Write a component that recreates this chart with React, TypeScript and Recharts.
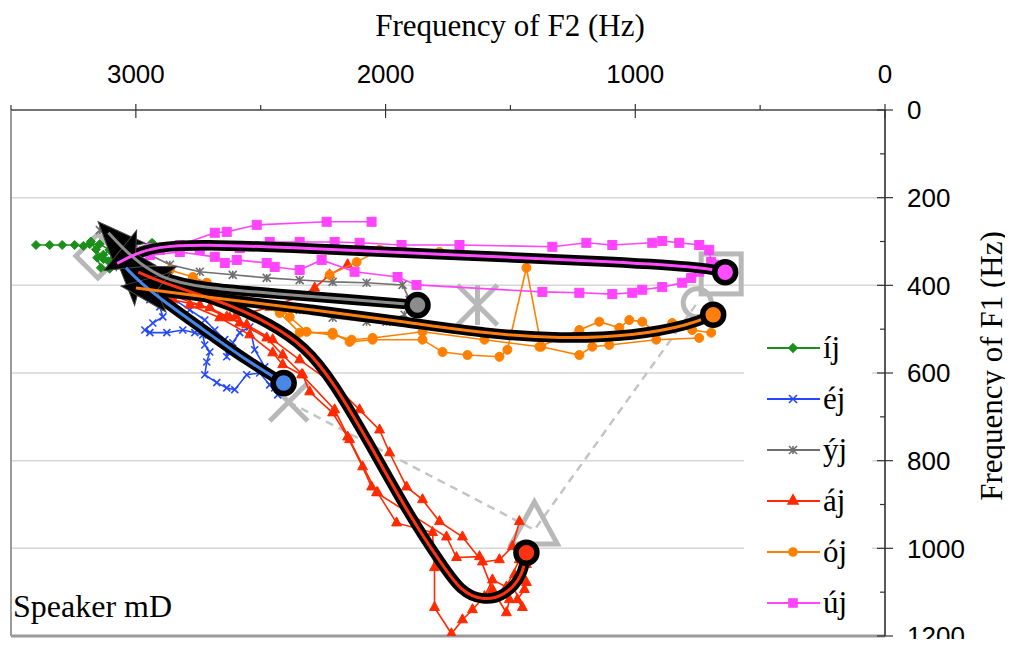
import React from "react";
import { ScatterChart, Scatter, XAxis, YAxis, CartesianGrid, ReferenceLine } from "recharts";

// All points are [F2, F1] in Hz

// íj
const iTracks = [
  [[3400, 308], [3345, 308], [3295, 308], [3245, 308], [3210, 310], [3185, 306], [3145, 306], [3105, 319]],
  [[3105, 319], [3130, 330], [3155, 337], [3140, 360], [3105, 362], [3050, 360], [3080, 338], [3025, 322], [2935, 303]],
  [[3180, 300], [3160, 318], [3130, 340], [3110, 345], [3090, 325], [3060, 315]],
];

// éj
const eTracks = [
  [[2432, 650], [2464, 627], [2504, 600], [2556, 604], [2604, 638], [2636, 634], [2676, 622], [2724, 604], [2716, 575],
   [2704, 552], [2724, 536], [2732, 513], [2764, 508], [2812, 502], [2876, 508], [2944, 508], [2964, 502], [2932, 486],
   [2892, 472], [2904, 449], [2944, 433], [2984, 410], [3024, 376]],
  [[2444, 634], [2484, 586], [2524, 547], [2544, 495], [2584, 508], [2612, 531], [2636, 563], [2644, 524], [2684, 502],
   [2724, 479], [2784, 456], [2844, 433], [2904, 410], [2944, 388], [3004, 365]],
];

// ýj
const yTracks = [
  [[1904, 433], [1932, 399], [2076, 394], [2212, 392], [2344, 388], [2476, 383], [2612, 376], [2744, 369], [2864, 353],
   [2984, 319], [3064, 292], [3144, 274]],
  [[1924, 467], [1996, 483], [2076, 483], [2212, 474], [2344, 456], [2476, 445], [2612, 429], [2744, 410], [2884, 394],
   [2944, 376]],
];

// áj
const aTracks = [
  [[1464, 1026], [1516, 1088], [1572, 1072], [1604, 1110], [1652, 1140], [1692, 1163], [1736, 1195], [1804, 1135],
   [1804, 1044], [1812, 964], [1956, 942], [2032, 873], [2056, 860], [2092, 814], [2152, 746], [2212, 691], [2304, 643],
   [2332, 604], [2412, 559], [2476, 520], [2584, 486], [2636, 472], [2744, 445], [2864, 422]],
  [[1464, 939], [1492, 996], [1544, 1026], [1612, 1031], [1692, 974], [1784, 939], [1852, 889], [1916, 860], [1984, 782],
   [2024, 730], [2104, 684], [2204, 627], [2344, 570], [2452, 524], [2556, 490], [2624, 474], [2704, 451], [2852, 433]],
  [[1484, 1060], [1504, 1117], [1516, 1147], [1572, 1094], [1624, 1019], [1716, 1021], [1756, 974], [2036, 873],
   [2144, 752], [2204, 684], [2336, 604], [2412, 581], [2452, 554], [2544, 513], [2664, 474], [2784, 445]],
  [[2152, 353], [2224, 376], [2284, 406], [2344, 426], [2464, 450], [2600, 470]],
  [[1436, 1037], [1456, 1060], [1444, 1094], [1472, 1117], [1452, 1135], [1492, 1083], [1436, 1078]],
];

// ój
const oTracks = [
  [[696, 508], [772, 502], [852, 486], [916, 508], [972, 483], [1024, 479], [1064, 497], [1144, 483], [1224, 502],
   [1384, 540], [1604, 524], [1852, 506], [2052, 520], [2136, 524], [2212, 513], [2316, 506], [2384, 472], [2412, 456],
   [2636, 410], [2716, 394], [2772, 381], [2864, 365]],
  [[744, 520], [916, 524], [1104, 536], [1172, 540], [1224, 559], [1376, 540], [1436, 360], [1512, 547], [1544, 563],
   [1672, 559], [1772, 552], [1852, 524], [2052, 524], [2144, 529], [2212, 508], [2344, 508], [2424, 463], [2584, 422],
   [2744, 399]],
  [[1784, 324], [2024, 319], [2116, 347], [2224, 376]],
];

// új
const uTracks = [
  [[2944, 315], [2824, 308], [2684, 280], [2636, 278], [2516, 262], [2236, 255], [2056, 255]],
  [[696, 347], [704, 319], [744, 308], [824, 303], [892, 299], [932, 303], [1092, 308], [1196, 303], [1332, 312],
   [1704, 308], [1936, 308], [2104, 303], [2204, 301], [2344, 301], [2464, 301], [2584, 315], [2744, 319], [2904, 319],
   [2984, 324]],
  [[684, 353], [744, 369], [776, 383], [812, 394], [892, 404], [972, 410], [1012, 417], [1092, 420], [1224, 417],
   [1372, 415], [1876, 399], [1952, 381], [2124, 369], [2256, 342], [2344, 365], [2444, 358], [2476, 349], [2596, 342],
   [2644, 349], [2684, 335], [2824, 324], [2944, 331]],
];

// mean trajectories (spline control points), vowel onset first
const eMean = [[2408, 623], [2560, 570], [2720, 505], [2880, 440], [2980, 395], [3040, 360]];
const yMean = [[1872, 445], [2140, 432], [2420, 420], [2740, 405], [2900, 385], [3020, 335], [3110, 280]];
const aMean = [[1436, 1010], [1450, 1062], [1520, 1108], [1612, 1120], [1700, 1097], [1770, 1040], [1900, 930],
  [2070, 755], [2210, 620], [2320, 540], [2470, 485], [2620, 445], [2780, 415], [2900, 392], [2990, 370]];
const oMean = [[688, 467], [780, 490], [1000, 515], [1300, 522], [1600, 510], [1900, 485], [2300, 455], [2700, 428],
  [3000, 406]];
const uMean = [[640, 370], [740, 358], [1140, 345], [1740, 330], [2340, 315], [2740, 306], [2920, 312], [3010, 330],
  [3075, 350]];

// monophthong targets
const iTarget = [3152, 333];
const eTarget = [2388, 666];
const yTarget = [1632, 445];
const aTarget = [1404, 958];
const oTarget = [752, 440];
const uTarget = [656, 374];

const f2Ticks = [0, 500, 1000, 1500, 2000, 2500, 3000, 3500];
const f1Ticks = [0, 100, 200, 300, 400, 500, 600, 700, 800, 900, 1000, 1100, 1200];
const f1Grid = [200, 400, 600, 800, 1000];

const SANS = "'Liberation Sans', Arial, sans-serif";
const SERIF = "'Liberation Serif', 'Times New Roman', serif";

type Kind = "diamond" | "x" | "star" | "triangle" | "circle" | "square";

const drawMark = (kind: Kind, cx: number, cy: number, r: number, color: string, sw: number, fill: string) => {
  switch (kind) {
    case "diamond":
      return <path d={`M${cx},${cy - r}L${cx + r},${cy}L${cx},${cy + r}L${cx - r},${cy}Z`} fill={fill} stroke={color} strokeWidth={sw} />;
    case "x":
      return <path d={`M${cx - r},${cy - r}L${cx + r},${cy + r}M${cx - r},${cy + r}L${cx + r},${cy - r}`} fill="none" stroke={color} strokeWidth={sw} />;
    case "star":
      return <path d={`M${cx - r},${cy - r}L${cx + r},${cy + r}M${cx - r},${cy + r}L${cx + r},${cy - r}M${cx},${cy - r}L${cx},${cy + r}`} fill="none" stroke={color} strokeWidth={sw} />;
    case "triangle": {
      const h = r * 0.82;
      return <path d={`M${cx},${cy - r}L${cx + h},${cy + r / 2}L${cx - h},${cy + r / 2}Z`} fill={fill} stroke={color} strokeWidth={sw} strokeLinejoin="miter" />;
    }
    case "circle":
      return <circle cx={cx} cy={cy} r={r} fill={fill} stroke={color} strokeWidth={sw} />;
    default:
      return <rect x={cx - r} y={cy - r} width={2 * r} height={2 * r} fill={fill} stroke={color} strokeWidth={sw} />;
  }
};

const vowels = [
  { name: "íj", kind: "diamond" as Kind, color: "#1a8f1a", size: 4.5, tracks: iTracks, mean: null as number[][] | null, inner: "", target: iTarget },
  { name: "éj", kind: "x" as Kind, color: "#2448ff", size: 3.5, tracks: eTracks, mean: eMean, inner: "#4a86e8", target: eTarget },
  { name: "ýj", kind: "star" as Kind, color: "#6f6f6f", size: 4, tracks: yTracks, mean: yMean, inner: "#8c8c8c", target: yTarget },
  { name: "áj", kind: "triangle" as Kind, color: "#ff2a00", size: 6, tracks: aTracks, mean: aMean, inner: "#ff3311", target: aTarget },
  { name: "ój", kind: "circle" as Kind, color: "#ff8000", size: 4.5, tracks: oTracks, mean: oMean, inner: "#ff7f0e", target: oTarget },
  { name: "új", kind: "square" as Kind, color: "#ff44ff", size: 4.5, tracks: uTracks, mean: uMean, inner: "#ff4dff", target: uTarget },
];

const targetSize: Record<Kind, number> = { diamond: 22, x: 19, star: 20, triangle: 28, circle: 14, square: 20 };

const toPts = (rows: number[][]) => rows.map(([f2, f1]) => ({ f2, f1 }));
const blank = () => <g />;

const F2Tick = (props: any) => {
  const { x, y, payload } = props;
  const major = payload.value % 1000 === 0;
  return (
    <g>
      <line x1={x} x2={x} y1={major ? y - 6 : y - 5} y2={major ? y + 8 : y} stroke="#333" strokeWidth={1.2} />
      {major && (
        <text x={x} y={y - 27} textAnchor="middle" fontFamily={SANS} fontSize={26} fill="#000">
          {payload.value}
        </text>
      )}
    </g>
  );
};

const F1Tick = (props: any) => {
  const { x, y, payload } = props;
  const major = payload.value % 200 === 0;
  return (
    <g>
      <line x1={major ? x - 8 : x - 5} x2={major ? x + 8 : x} y1={y} y2={y} stroke="#333" strokeWidth={1.2} />
      {major && (
        <text x={x + 22} y={y} dy="0.36em" textAnchor="start" fontFamily={SANS} fontSize={26} fill="#000">
          {payload.value}
        </text>
      )}
    </g>
  );
};

const Legend = () => (
  <div style={{ position: "absolute", left: 744, top: 322, width: 128, height: 306, background: "#fff" }}>
    {vowels.map((v) => (
      <div key={v.name} style={{ height: 51, display: "flex", alignItems: "center" }}>
        <svg width={56} height={20} style={{ marginLeft: 22 }}>
          <line x1={1} x2={54} y1={10} y2={10} stroke={v.color} strokeWidth={2} />
          {drawMark(v.kind, 27, 10, v.kind === "triangle" ? 6 : 4, v.color, 1.6, v.color)}
        </svg>
        <span style={{ fontFamily: SERIF, fontSize: 31, lineHeight: "31px", marginLeft: 1 }}>{v.name}</span>
      </div>
    ))}
  </div>
);

export default function App() {
  return (
    <div style={{ margin: -8, width: 1013, height: 647, position: "relative", background: "#fff" }}>
      <ScatterChart width={1013} height={647} margin={{ top: 50, right: 28, bottom: 11, left: 11 }}>
        <defs>
          <marker id="arrowHead" markerUnits="userSpaceOnUse" markerWidth={60} markerHeight={60} refX={33} refY={0}
            orient="auto" overflow="visible">
            <path d="M48,0 L0,-20 L12,0 L0,20 Z" fill="#000" stroke="#444" strokeWidth={1} />
          </marker>
        </defs>
        <CartesianGrid vertical={false} horizontalValues={f1Grid} stroke="#d6d6d6" strokeWidth={1.5} />
        <XAxis type="number" dataKey="f2" orientation="top" reversed domain={[0, 3500]} ticks={f2Ticks} interval={0}
          allowDataOverflow height={60} tickSize={0} tickMargin={0} tick={F2Tick} tickLine={false}
          axisLine={{ stroke: "#444", strokeWidth: 1.5 }} />
        <YAxis type="number" dataKey="f1" orientation="right" reversed domain={[0, 1200]} ticks={f1Ticks} interval={0}
          allowDataOverflow width={100} tickSize={0} tickMargin={0} tick={F1Tick} tickLine={false}
          axisLine={{ stroke: "#222", strokeWidth: 1.5 }} />
        <ReferenceLine x={3500} stroke="#9a9a9a" strokeWidth={2} />
        <ReferenceLine y={1200} stroke="#9a9a9a" strokeWidth={3} />

        {/* vowel polygon é - á - ó */}
        <Scatter data={toPts([eTarget, aTarget, oTarget])} line={{ stroke: "#c4c4c4", strokeWidth: 2.5, strokeDasharray: "8 6" }}
          lineJointType="linear" shape={blank} isAnimationActive={false} />

        {vowels.map((v) => (
          <Scatter key={`t-${v.name}`} data={toPts([v.target])} isAnimationActive={false}
            shape={(p: any) => drawMark(v.kind, p.cx, p.cy, targetSize[v.kind], "#b8b8b8", 5, "none")} />
        ))}

        {vowels.flatMap((v) =>
          v.tracks.map((t, i) => (
            <Scatter key={`r-${v.name}-${i}`} data={toPts(t)} line={{ stroke: v.color, strokeWidth: 1.6 }}
              lineJointType="linear" isAnimationActive={false}
              shape={(p: any) => drawMark(v.kind, p.cx, p.cy, v.size, v.color, v.kind === "x" || v.kind === "star" ? 1.6 : 1, v.color)} />
          ))
        )}

        {vowels.filter((v) => v.mean).map((v) => (
          <Scatter key={`mo-${v.name}`} data={toPts(v.mean!)} lineJointType="basis" shape={blank} isAnimationActive={false}
            line={{ stroke: "#000", strokeWidth: 10.5, markerEnd: "url(#arrowHead)", strokeLinecap: "round" }} />
        ))}
        {vowels.filter((v) => v.mean).map((v) => (
          <Scatter key={`mi-${v.name}`} data={toPts(v.mean!)} lineJointType="basis" shape={blank} isAnimationActive={false}
            line={{ stroke: v.inner, strokeWidth: 3 }} />
        ))}
        {vowels.filter((v) => v.mean).map((v) => (
          <Scatter key={`ms-${v.name}`} data={toPts([v.mean![0]])} isAnimationActive={false}
            shape={(p: any) => <circle cx={p.cx} cy={p.cy} r={10.5} fill={v.inner} stroke="#000" strokeWidth={5.5} />} />
        ))}

        <text x={510} y={36} textAnchor="middle" fontFamily={SERIF} fontSize={31} fill="#000">Frequency of F2 (Hz)</text>
        <text x={1002} y={366} textAnchor="middle" transform="rotate(-90 1002 366)" fontFamily={SERIF} fontSize={31} fill="#000">
          Frequency of F1 (Hz)
        </text>
        <text x={13} y={617} fontFamily={SERIF} fontSize={32} fill="#000">Speaker mD</text>
      </ScatterChart>
      <Legend />
    </div>
  );
}
